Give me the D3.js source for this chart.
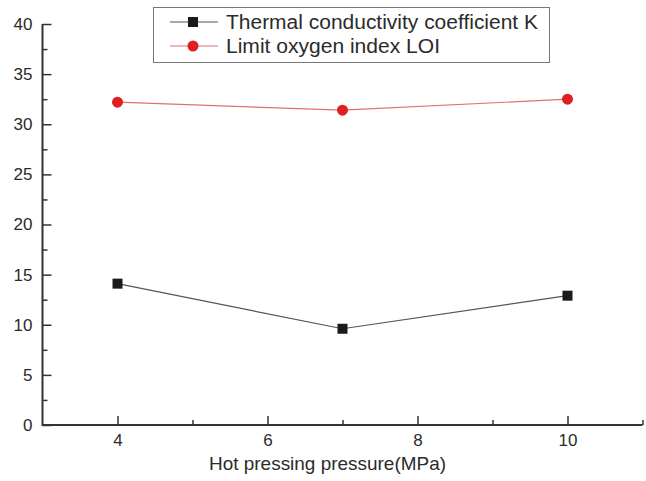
<!DOCTYPE html>
<html>
<head>
<meta charset="utf-8">
<script src="https://cdn.jsdelivr.net/npm/d3@7"></script>
<style>
  body { margin: 0; background: #fff; }
  text { font-family: "Liberation Sans", Arial, sans-serif; fill: #2b2b2b; }
</style>
</head>
<body>
<div id="chart"></div>
<script>
var w = 646;
var h = 481;

// data
var pressure = [4, 7, 10];
var kValues = [14.1, 9.6, 12.9];
var loiValues = [32.2, 31.4, 32.5];
var seriesNames = ["Thermal conductivity coefficient K", "Limit oxygen index LOI"];
var xTicks = [4, 6, 8, 10];
var xMinorTicks = [5, 7, 9, 11];
var yTicks = [0, 5, 10, 15, 20, 25, 30, 35, 40];
var yMinorTicks = [2.5, 7.5, 12.5, 17.5, 22.5, 27.5, 32.5, 37.5];

var axisColor = "#333";

var svg = d3.select("#chart")
  .append("svg")
  .attr("width", w)
  .attr("height", h);

var x = d3.scaleLinear().domain([3, 11]).range([42.5, 642.5]);
var y = d3.scaleLinear().domain([0, 40]).range([425, 24]);

// axes: ticks point inward, minor ticks shorter
var xAxis = d3.axisBottom(x).tickValues(xTicks).tickSize(-9).tickPadding(9);
var xMinor = d3.axisBottom(x).tickValues(xMinorTicks).tickSize(-5).tickFormat("");
var yAxis = d3.axisLeft(y).tickValues(yTicks).tickSize(-9).tickPadding(10);
var yMinor = d3.axisLeft(y).tickValues(yMinorTicks).tickSize(-5).tickFormat("");

function styleAxis(g) {
  g.select(".domain").remove();
  g.selectAll(".tick line").attr("stroke", axisColor).attr("stroke-width", 1.5);
  g.selectAll(".tick text").style("font-size", "17px").attr("fill", "#2b2b2b");
}

svg.append("g").attr("transform", "translate(0," + y(0) + ")").call(xMinor).call(styleAxis);
svg.append("g").attr("transform", "translate(0," + y(0) + ")").call(xAxis).call(styleAxis);
svg.append("g").attr("transform", "translate(" + x(3) + ",0)").call(yMinor).call(styleAxis);
svg.append("g").attr("transform", "translate(" + x(3) + ",0)").call(yAxis).call(styleAxis);

// axis lines
svg.append("path")
  .attr("d", "M" + x(3) + "," + y(40) + "V" + y(0) + "H" + x(11))
  .attr("fill", "none")
  .attr("stroke", axisColor)
  .attr("stroke-width", 2);

svg.append("text")
  .attr("x", 327.5)
  .attr("y", 470)
  .attr("text-anchor", "middle")
  .attr("textLength", 237)
  .attr("lengthAdjust", "spacingAndGlyphs")
  .style("font-size", "19px")
  .text("Hot pressing pressure(MPa)");

var line = d3.line()
  .x(function(d, i) { return x(pressure[i]); })
  .y(function(d) { return y(d); });

// K series
svg.append("path")
  .datum(kValues)
  .attr("d", line)
  .attr("fill", "none")
  .attr("stroke", "#555")
  .attr("stroke-width", 1.2);

svg.selectAll(".kpt")
  .data(kValues)
  .enter()
  .append("rect")
  .attr("class", "kpt")
  .attr("x", function(d, i) { return x(pressure[i]) - 5; })
  .attr("y", function(d) { return y(d) - 5; })
  .attr("width", 10)
  .attr("height", 10)
  .attr("fill", "#1a1a1a");

// LOI series
svg.append("path")
  .datum(loiValues)
  .attr("d", line)
  .attr("fill", "none")
  .attr("stroke", "#e07070")
  .attr("stroke-width", 1.2);

svg.selectAll(".lpt")
  .data(loiValues)
  .enter()
  .append("circle")
  .attr("class", "lpt")
  .attr("cx", function(d, i) { return x(pressure[i]); })
  .attr("cy", function(d) { return y(d); })
  .attr("r", 5.5)
  .attr("fill", "#e02020");

// legend
var lg = svg.append("g");
lg.append("rect")
  .attr("x", 153.5)
  .attr("y", 7.5)
  .attr("width", 396)
  .attr("height", 55)
  .attr("fill", "#fff")
  .attr("stroke", "#777")
  .attr("stroke-width", 1);

var rowsY = [22, 46];
var textWidths = [312, 214];
seriesNames.forEach(function(name, i) {
  lg.append("line")
    .attr("x1", 170).attr("x2", 218)
    .attr("y1", rowsY[i]).attr("y2", rowsY[i])
    .attr("stroke", i === 0 ? "#555" : "#e07070")
    .attr("stroke-width", 1.2);
  if (i === 0) {
    lg.append("rect")
      .attr("x", 188).attr("y", rowsY[i] - 5)
      .attr("width", 10).attr("height", 10)
      .attr("fill", "#1a1a1a");
  } else {
    lg.append("circle")
      .attr("cx", 193).attr("cy", rowsY[i])
      .attr("r", 5.5)
      .attr("fill", "#e02020");
  }
  lg.append("text")
    .attr("x", 226)
    .attr("y", rowsY[i] + 7)
    .attr("textLength", textWidths[i])
    .attr("lengthAdjust", "spacingAndGlyphs")
    .style("font-size", "19.5px")
    .text(name);
});
</script>
</body>
</html>
